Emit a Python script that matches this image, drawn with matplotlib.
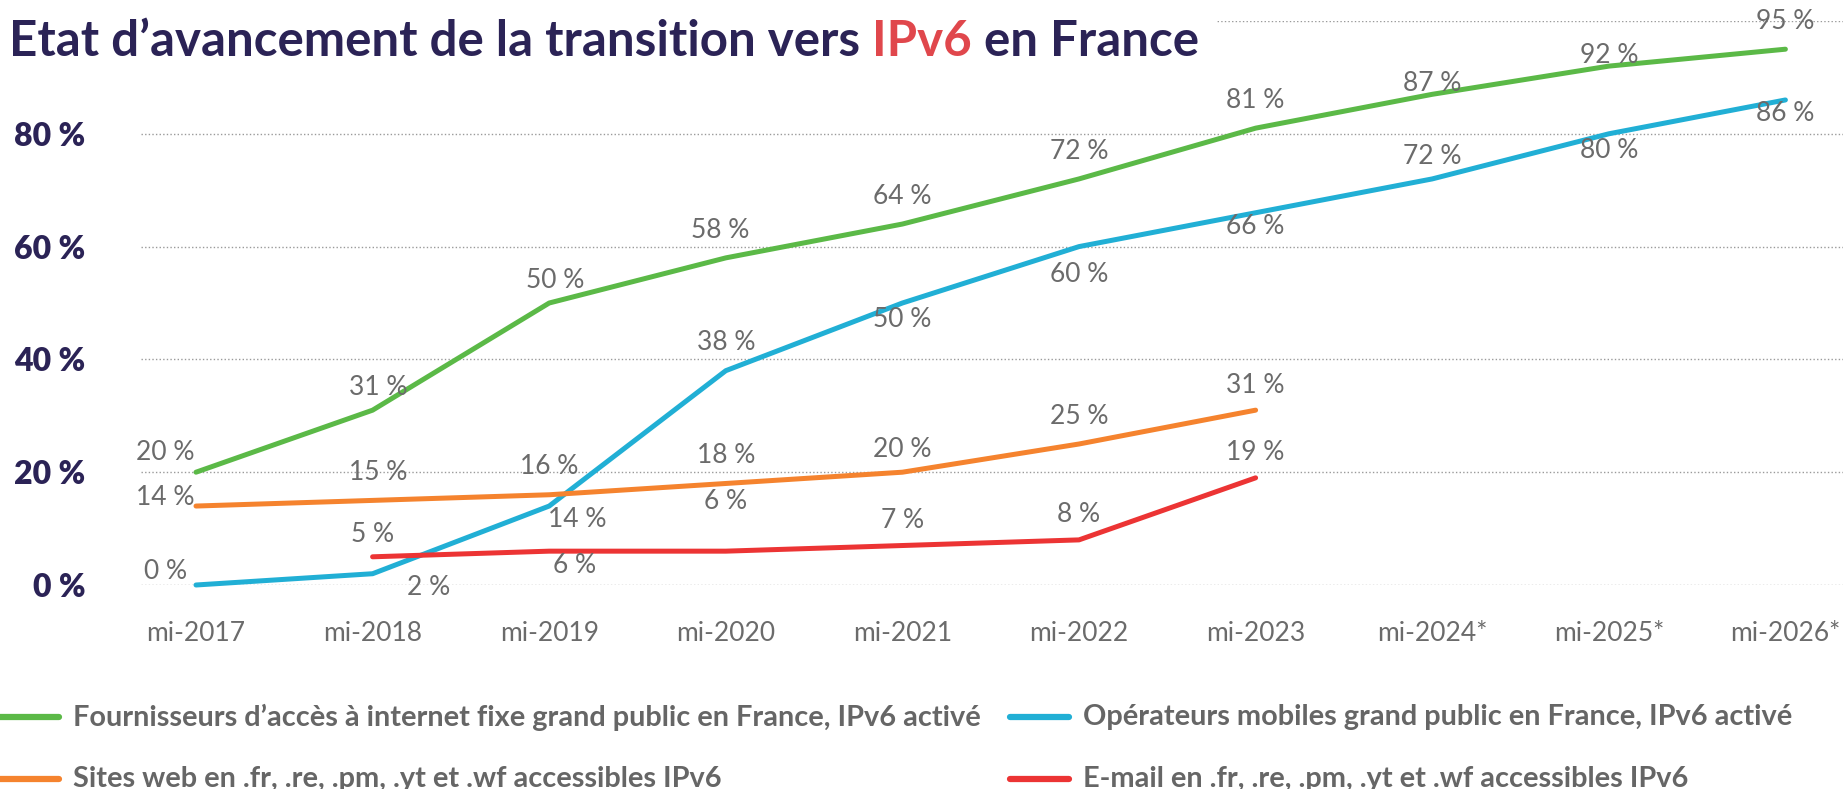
import matplotlib.pyplot as plt
from matplotlib.lines import Line2D
import numpy as np

# data
years = ["mi-2017", "mi-2018", "mi-2019", "mi-2020", "mi-2021", "mi-2022",
         "mi-2023", "mi-2024*", "mi-2025*", "mi-2026*"]
fixe = [20, 31, 50, 58, 64, 72, 81, 87, 92, 95]
mobile = [0, 2, 14, 38, 50, 60, 66, 72, 80, 86]
web = [14, 15, 16, 18, 20, 25, 31]          # 2017 -> 2023
email = [5, 6, 6, 7, 8, 19]                  # 2018 -> 2023

names = ["Fournisseurs d\u2019accès à internet fixe grand public en France, IPv6 activé",
         "Opérateurs mobiles grand public en France, IPv6 activé",
         "Sites web en .fr, .re, .pm, .yt et .wf accessibles IPv6",
         "E-mail en .fr, .re, .pm, .yt et .wf accessibles IPv6"]

GREEN, BLUE, ORANGE, RED = "#5bb947", "#21afd5", "#f5832e", "#ec3434"
NAVY = "#2b2356"
GREY = "#6b6b6b"

# label offsets in points (dx, dy) - layout only
off_fixe = [(-22, 14), (4, 16), (4, 16), (-4, 20), (0, 20), (0, 20), (0, 20), (0, 8), (0, 8), (0, 20)]
off_mobile = [(-22, 10), (40, -10), (20, -10), (0, 20), (0, -12), (0, -20), (0, -10), (0, 16), (0, -12), (0, -10)]
off_web = [(-22, 6), (4, 20), (0, 20), (0, 20), (0, 16), (0, 20), (0, 18)]
off_email = [(0, 16), (18, -10), (0, 36), (0, 18), (0, 18), (0, 18)]

plt.rcParams['font.family'] = ['Lato', 'DejaVu Sans']

fig = plt.figure(figsize=(18.43, 7.89), dpi=100)
W, H = 1843, 789
# axes: x from 141 px to right edge, y from 21 px (100 %) to 585 px (0 %)
ax = fig.add_axes([141 / W, 1 - 585 / H, 1 - 141 / W, (585 - 21) / H])
x = np.arange(len(years))
ax.set_xlim((141 - 196) / 176.6, (1843 - 196) / 176.6)
ax.set_ylim(0, 100)

for v in range(0, 101, 20):
    ax.axhline(v, color="#9a9a9a", lw=1.0, ls=(0, (1, 1.6)), zorder=0)

series = [(fixe, x, GREEN, off_fixe), (mobile, x, BLUE, off_mobile),
          (web, x[:len(web)], ORANGE, off_web), (email, x[1:1 + len(email)], RED, off_email)]
for vals, xs, col, offs in series:
    ax.plot(xs, vals, color=col, lw=3.6, solid_capstyle="round", clip_on=False, zorder=3)
    for xi, v, (dx, dy) in zip(xs, vals, offs):
        ax.annotate(f"{v} %", (xi, v), xytext=(dx, dy), textcoords="offset points",
                    ha="center", va="center", fontsize=19, color=GREY, zorder=4)

for s in ax.spines.values():
    s.set_visible(False)
ax.set_xticks(x)
ax.set_xticklabels(years, fontsize=19, color=GREY)
ax.set_yticks(range(0, 81, 20))
ax.set_yticklabels([f"{v} %" for v in range(0, 81, 20)], fontsize=23,
                   fontweight="heavy", color=NAVY)
ax.tick_params(length=0)
ax.tick_params(axis="x", pad=26)
ax.tick_params(axis="y", pad=40)

# title in three pieces so IPv6 can be red
fig.patches.append(plt.Rectangle((0, 1 - 75 / H), 1215 / W, 75 / H, transform=fig.transFigure,
                                 color="white", zorder=5))
parts = [("Etat d\u2019avancement de la transition vers ", NAVY), ("IPv6", "#e0474c"),
         (" en France", NAVY)]
fig.canvas.draw()
r = fig.canvas.get_renderer()
xpos = 9 / W
for txt, col in parts:
    t = fig.text(xpos, 1 - 42 / H, txt, fontsize=35.5, fontweight="bold", color=col,
                 va="center", ha="left", zorder=6)
    bb = t.get_window_extent(renderer=r)
    xpos += bb.width / W

# legend drawn by hand
leg = [(0, 717, GREEN, names[0]), (1010, 717, BLUE, names[1]),
       (0, 779, ORANGE, names[2]), (1010, 779, RED, names[3])]
for lx, ly, col, name in leg:
    fig.add_artist(Line2D([lx / W, (lx + 59) / W], [1 - ly / H, 1 - ly / H], color=col,
                          lw=4.5, solid_capstyle="round", transform=fig.transFigure))
    fig.text((lx + 73) / W, 1 - ly / H, name, fontsize=20.8, fontweight="bold",
             color="#666666", va="center", ha="left")

fig.savefig("out.png", dpi=100, facecolor="white")
